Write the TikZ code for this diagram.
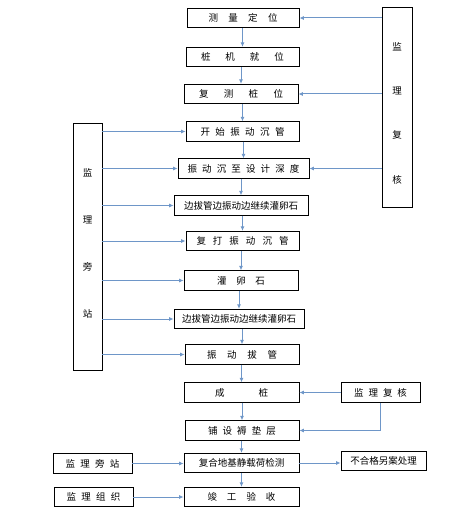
\documentclass[tikz,border=0pt]{standalone}
\usepackage{fontspec}
\setmainfont{Noto Sans CJK SC}
\usetikzlibrary{arrows.meta}
\definecolor{linkblue}{RGB}{110,150,200}
\newcommand{\spread}[2]{\makebox[#1pt][s]{#2}}
\begin{document}
\begin{tikzpicture}[x=1pt,y=-1pt,
  box/.style={draw=black,line width=.8pt,inner sep=0pt,minimum height=19.5pt,
    font=\fontsize{9.5}{11.4}\selectfont},
  link/.style={draw=linkblue,line width=1pt,-{Latex[length=4.5pt,width=4pt]}}]
\useasboundingbox (0,0) rectangle (475,521);
% main column
\node[box,minimum width=112pt] (m1) at (243,18) {\spread{69}{测 量 定 位}};
\node[box,minimum width=113pt] (m2) at (242.5,57) {\spread{83}{桩 机 就 位}};
\node[box,minimum width=114pt] (m3) at (241,94) {\spread{84}{复 测 桩 位}};
\node[box,minimum width=113pt] (m4) at (242.5,131.5) {\spread{84}{开 始 振 动 沉 管}};
\node[box,minimum width=131pt] (m5) at (243.5,168.5) {\spread{112}{振 动 沉 至 设 计 深 度}};
\node[box,minimum width=134pt] (m6) at (241,205.5) {边拔管边振动边继续灌卵石};
\node[box,minimum width=113pt] (m7) at (242.5,241) {\spread{92}{复 打 振 动 沉 管}};
\node[box,minimum width=114pt] (m8) at (241,280.5) {\spread{48}{灌 卵 石}};
\node[box,minimum width=130pt] (m9) at (239,319) {边拔管边振动边继续灌卵石};
\node[box,minimum width=114pt] (m10) at (242,354.5) {\spread{70}{振 动 拔 管}};
\node[box,minimum width=115pt] (m11) at (241.5,392.5) {\spread{53}{成 桩}};
\node[box,minimum width=114pt] (m12) at (242,430.5) {\spread{68}{铺 设 褥 垫 层}};
\node[box,minimum width=115pt] (m13) at (241.5,463) {复合地基静载荷检测};
\node[box,minimum width=115pt] (m14) at (241.5,497) {\spread{68}{竣 工 验 收}};
% supervision boxes
\node[box,minimum width=30pt,minimum height=200pt,align=center] (fh) at (397,107)
  {\rule{0pt}{20pt}监\\[33pt]理\\[33pt]复\\[33pt]核};
\node[box,minimum width=29pt,minimum height=247pt,align=center] (pz) at (87.5,246.5)
  {监\\[35.6pt]理\\[35.6pt]旁\\[35.6pt]站\rule[-6pt]{0pt}{6pt}};
\node[box,minimum width=79pt] (fh2) at (380.5,392.5) {\spread{53}{监 理 复 核}};
\node[box,minimum width=85pt] (bhg) at (383.5,461) {不合格另案处理};
\node[box,minimum width=79pt] (pz2) at (92.5,463.5) {\spread{54}{监 理 旁 站}};
\node[box,minimum width=79pt] (zz) at (93.5,497) {\spread{54}{监 理 组 织}};
% flow down the column
\foreach \a/\b in {m1/m2,m2/m3,m3/m4,m4/m5,m5/m6,m6/m7,m7/m8,m8/m9,m9/m10,
  m10/m11,m11/m12,m12/m13,m13/m14}
  \draw[link] (\a.south -| \b.north) -- (\b.north);
% right side checks
\foreach \b in {m1,m3,m5}
  \draw[link] (fh.west |- \b.east) -- (\b.east);
% left side attendance
\foreach \b in {m4,m5,m6,m7,m8,m9,m10}
  \draw[link] (pz.east |- \b.west) -- (\b.west);
\draw[link] (fh2.west) -- (fh2.west -| m11.east);
\draw[link] (fh2.south) |- (m12.east);
\draw[link] (m13.east) -- (m13.east -| bhg.west);
\draw[link] (pz2.east) -- (pz2.east -| m13.west);
\draw[link] (zz.east) -- (zz.east -| m14.west);
\end{tikzpicture}
\end{document}
